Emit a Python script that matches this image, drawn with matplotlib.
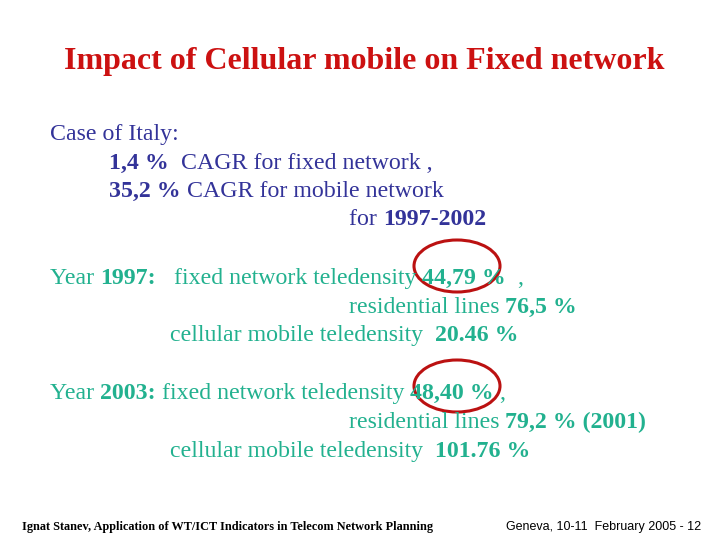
import matplotlib
matplotlib.use("Agg")
import matplotlib.pyplot as plt
from matplotlib import font_manager
from matplotlib.patches import Ellipse

serif_names = [f.name for f in font_manager.fontManager.ttflist if "Liberation" in f.name]
SERIF = ["Liberation Serif", "DejaVu Serif"] if "Liberation Serif" in serif_names else ["DejaVu Serif"]

BLUE = "#333399"
TEAL = "#22B18F"
RED = "#CC1111"

title = "Impact of Cellular mobile on Fixed network"

# each line: (x, baseline y, colour, [(text, bold), ...])  -- pixel coords from top-left
lines = [
    (50, 140, BLUE, [("Case of Italy:", False)]),
    (109, 169, BLUE, [("1,4 %", True), ("  CAGR for fixed network ,", False)]),
    (109, 197, BLUE, [("35,2 %", True), (" CAGR for mobile network", False)]),
    (349, 225, BLUE, [("for ", False), ("1997-2002", True)]),
    (50, 284, TEAL, [("Year ", False), ("1997:", True), ("   fixed network teledensity ", False),
                     ("44,79 %", True), ("  ,", False)]),
    (349, 313, TEAL, [("residential lines ", False), ("76,5 %", True)]),
    (170, 341, TEAL, [("cellular mobile teledensity  ", False), ("20.46 %", True)]),
    (50, 399, TEAL, [("Year ", False), ("2003:", True), (" fixed network teledensity ", False),
                     ("48,40 %", True), (" ,", False)]),
    (349, 428, TEAL, [("residential lines ", False), ("79,2 % (2001)", True)]),
    (170, 457, TEAL, [("cellular mobile teledensity  ", False), ("101.76 %", True)]),
]
circles = [(457, 266), (457, 386)]
footer_left = "Ignat Stanev, Application of WT/ICT Indicators in Telecom Network Planning"
footer_right = "Geneva, 10-11  February 2005 - 12"

fig = plt.figure(figsize=(7.2, 5.4), dpi=100)
W, H = 720, 540
r = fig.canvas.get_renderer()


def px(x, y):
    return x / W, 1 - y / H


fig.text(*px(364, 62), title, ha="center", va="center", color=RED,
         fontsize=23, fontweight="bold", family=SERIF)

for x, y, col, parts in lines:
    cx = x
    for txt, bold in parts:
        t = fig.text(*px(cx, y), txt, ha="left", va="baseline", color=col,
                     fontsize=17.2, fontweight="bold" if bold else "normal",
                     family=SERIF)
        cx += t.get_window_extent(r).width

for cx, cy in circles:
    fig.patches.append(Ellipse(px(cx, cy), 86 / W, 52 / H, fill=False,
                               edgecolor="#BB1111", lw=2.2,
                               transform=fig.transFigure))

fig.text(*px(22, 527), footer_left, ha="left", va="center", fontsize=8.8,
         family=SERIF, fontweight="bold", color="black")
fig.text(*px(506, 527), footer_right, ha="left", va="center", fontsize=9,
         family=["Liberation Sans", "DejaVu Sans"], color="black")

fig.savefig("out.png", dpi=100)
